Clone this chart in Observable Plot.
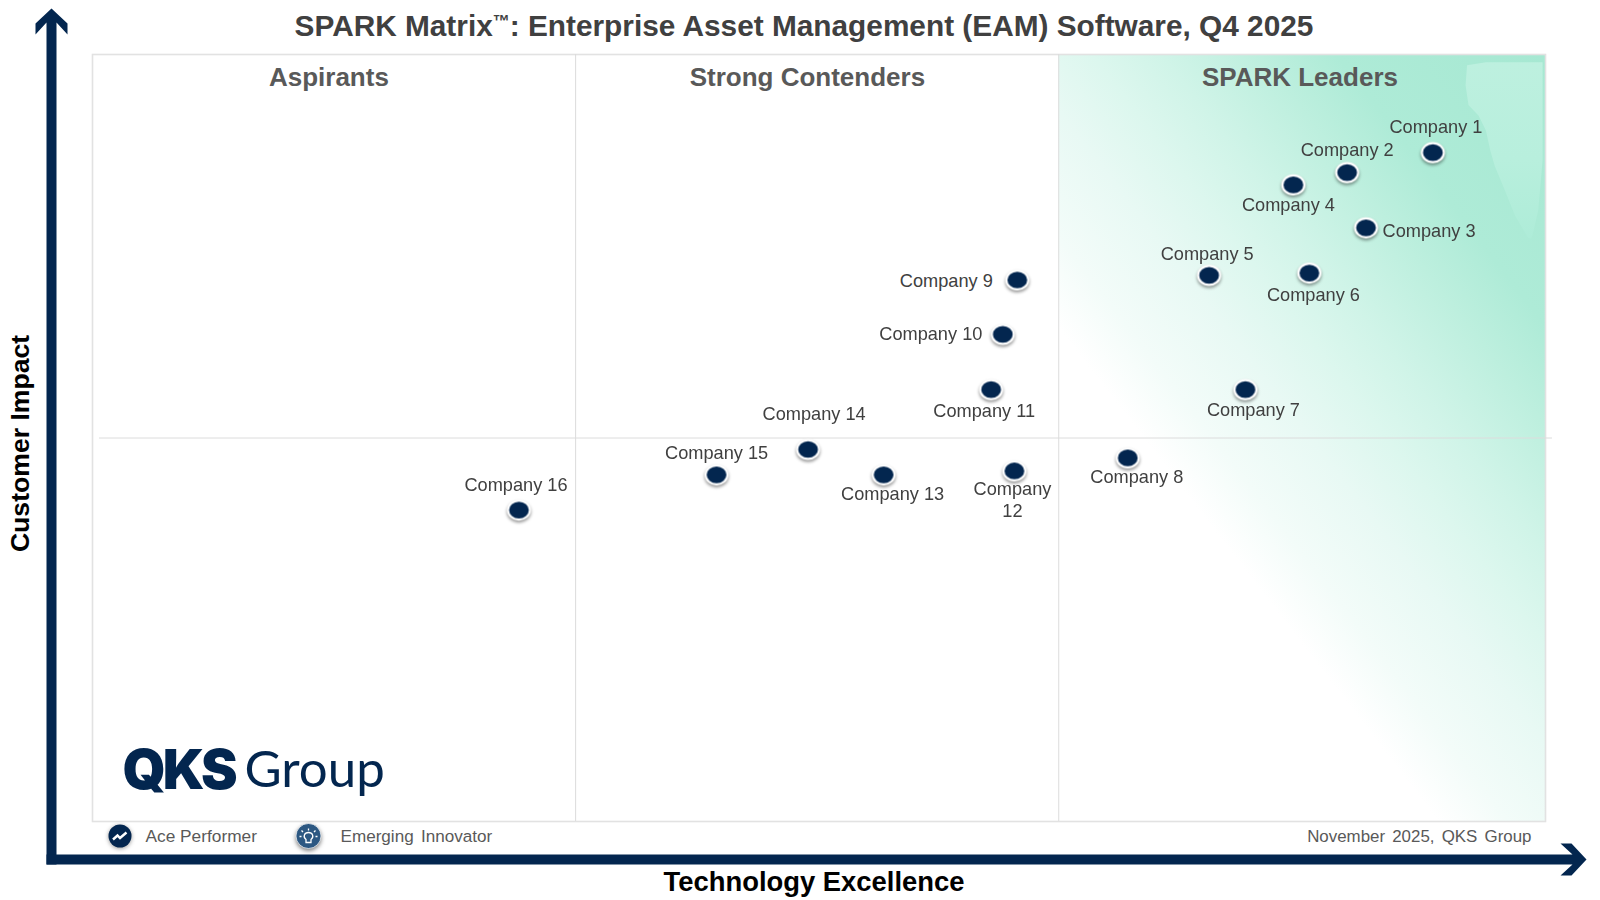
<!DOCTYPE html>
<html>
<head>
<meta charset="utf-8">
<script src="https://cdn.jsdelivr.net/npm/d3@7"></script>
<script src="https://cdn.jsdelivr.net/npm/@observablehq/plot@0.6"></script>
<style>
  html, body { margin: 0; background: #fff; }
</style>
</head>
<body>
<div id="chart"></div>
<script>
const companies = ["Company 1","Company 2","Company 3","Company 4","Company 5","Company 6","Company 7","Company 8","Company 9","Company 10","Company 11","Company 12","Company 13","Company 14","Company 15","Company 16"];
const technologyExcellence = [92.25,86.35,87.65,82.65,76.85,83.75,79.35,71.25,63.65,62.65,61.85,63.45,54.45,49.25,42.95,29.35];
const customerImpact = [87.2,84.6,77.4,83.0,71.2,71.5,56.3,47.4,70.6,63.5,56.3,45.7,45.2,48.5,45.2,40.6];
const labelLines = companies.map(c => c === "Company 12" ? "Company\n12" : c);
const quadrants = ["Aspirants","Strong Contenders","SPARK Leaders"];
const quadrantLabelAt = [16.27,49.2,83.1];
const quadrantEdges = [0,33.25,66.5,100];
const midImpact = 50;
const blobX = [94.6,95.9,99.8,99.8,99.5,99.1,99.0,98.8,97.9,97.2,96.5,96.2,95.9,95.4,94.7,94.5];
const blobY = [98.6,99.0,99.0,86.2,79.7,76.4,76.0,76.1,79.0,82.3,85.5,87.5,90.1,92.0,93.4,96.0];

const table = companies.map((name,i)=>({name,label:labelLines[i],x:technologyExcellence[i],y:customerImpact[i]}));
const labelOffset = [[3,-27],[0,-24],[63,2],[-5,19],[-2,-23],[4,21],[8,19],[9,18],[-71,0],[-72,-2],[-7,20],[-2,28],[9,18],[6,-37],[0,-23],[-3,-26]];

const ink = "#03264f";
function ellipseSymbol(){ return { draw(ctx,size){
  const r=Math.sqrt(size/Math.PI), rx=r, ry=r*.86, k=.5523;
  ctx.moveTo(rx,0);
  ctx.bezierCurveTo(rx,ry*k,rx*k,ry,0,ry);
  ctx.bezierCurveTo(-rx*k,ry,-rx,ry*k,-rx,0);
  ctx.bezierCurveTo(-rx,-ry*k,-rx*k,-ry,0,-ry);
  ctx.bezierCurveTo(rx*k,-ry,rx,-ry*k,rx,0);
  ctx.closePath();
}};}
const arrowShape = { draw(ctx,l){
  const s=5,w=16,h=26,n=14;
  ctx.moveTo(-s,0); ctx.lineTo(-s,-(l-n)); ctx.lineTo(-w,-(l-h));ctx.lineTo(-w,-(l-15));ctx.lineTo(0,-l);
  ctx.lineTo(w,-(l-15));ctx.lineTo(w,-(l-h));ctx.lineTo(s,-(l-n));ctx.lineTo(s,0);ctx.closePath();
}};
const trendSymbol = { draw(ctx){
  ctx.moveTo(-7,3.5);ctx.lineTo(-2.5,-0.5);ctx.lineTo(0,2);ctx.lineTo(6.5,-3.5);
}};
const bulbSymbol = { draw(ctx){
  ctx.moveTo(-2.5,2);ctx.bezierCurveTo(-6,-1,-4,-5,0,-5);ctx.bezierCurveTo(4,-5,6,-1,2.5,2);ctx.lineTo(2.5,5);ctx.lineTo(-2.5,5);ctx.closePath();
  ctx.moveTo(0,-7);ctx.lineTo(0,-9);ctx.moveTo(-5.5,-5.5);ctx.lineTo(-7,-7);ctx.moveTo(5.5,-5.5);ctx.lineTo(7,-7);
  ctx.moveTo(-7,-1);ctx.lineTo(-9,-1);ctx.moveTo(7,-1);ctx.lineTo(9,-1);
}};
const gradientDefs = () => {
  const defs = d3.create("svg:defs");
  const g = defs.append("linearGradient").attr("id","leaders").attr("gradientUnits","userSpaceOnUse")
    .attr("x1",1040).attr("y1",304).attr("x2",1478).attr("y2",-33);
  [[0,"#ffffff"],[.1,"#f3fcf9"],[.24,"#e8f9f4"],[.35,"#dcf7ee"],[.45,"#d0f4e8"],[.59,"#bdefde"],[.7,"#aeebd7"],[1,"#a6e8d2"]]
    .forEach(([o,c])=>g.append("stop").attr("offset",o).attr("stop-color",c));
  const b = defs.append("linearGradient").attr("id","blob").attr("x1",0).attr("y1",0).attr("x2",0).attr("y2",1);
  [[0,"#bdf0df"],[.55,"#b8efdd"],[1,"#aeecd8"]].forEach(([o,c])=>b.append("stop").attr("offset",o).attr("stop-color",c));
  return defs.node();
};

const font = "Liberation Sans, Arial, sans-serif";
const titleText = "SPARK Matrix™: Enterprise Asset Management (EAM) Software, Q4 2025";
const chart = Plot.plot({
  width:1600, height:900, marginTop:54, marginLeft:92, marginRight:55, marginBottom:79,
  x:{domain:[0,100],axis:null}, y:{domain:[0,100],axis:null},
  style:{fontFamily:font,background:"#fff",overflow:"visible"},
  marks:[
    gradientDefs,
    Plot.rect([0],{x1:quadrantEdges[2],x2:quadrantEdges[3],y1:0,y2:100,fill:"url(#leaders)"}),
    Plot.line(blobX.map((x,i)=>({x,y:blobY[i]})),{x:"x",y:"y",fill:"url(#blob)",stroke:"none"}),
    Plot.frame({stroke:"#e2e2e2",strokeWidth:1.6}),
    Plot.ruleX(quadrantEdges.slice(1,3),{stroke:"#dcdcdc",strokeWidth:1}),
    Plot.ruleY([midImpact],{x1:.48,x2:100.48,stroke:"#dcdcdc",strokeWidth:1}),
    // axis arrows
    Plot.vector([0],{frameAnchor:"bottom-left",dx:-41,dy:43,rotate:0,length:856,anchor:"start",shape:arrowShape,fill:ink,stroke:"none"}),
    Plot.vector([0],{frameAnchor:"bottom-left",dx:-46,dy:38,rotate:90,length:1540,anchor:"start",shape:arrowShape,fill:ink,stroke:"none"}),
    // title and axis names
    Plot.text([titleText],{frameAnchor:"top",dx:-15,dy:-40,fontSize:29.8,fontWeight:"bold",fill:"#404040"}),
    Plot.text(quadrants,{x:(d,i)=>quadrantLabelAt[i],frameAnchor:"top",dy:13,fontSize:26,fontWeight:"bold",fill:"#595959"}),
    Plot.text(["Customer Impact"],{frameAnchor:"left",textAnchor:"middle",dx:-72,dy:5.5,rotate:-90,fontSize:26.6,fontWeight:"bold",fill:"#000"}),
    Plot.text(["Technology Excellence"],{frameAnchor:"bottom",dx:-5,dy:69,fontSize:27.4,fontWeight:"bold",fill:"#000"}),
    // points
    Plot.dot(table,{x:"x",y:"y",r:11,symbol:ellipseSymbol(),fill:ink,stroke:"#fff",strokeWidth:2.2,imageFilter:"drop-shadow(0 2px 1.5px rgba(0,0,0,.4))"}),
    ...table.map((d,i)=>Plot.text([d],{x:"x",y:"y",text:"label",dx:labelOffset[i][0],dy:labelOffset[i][1],fontSize:18.2,fill:"#404040",lineHeight:1.22})),
    // logo
    Plot.text(["QKS"],{frameAnchor:"bottom-left",dx:30,dy:-33,textAnchor:"start",fontFamily:"Inter",fontWeight:900,fontSize:55,fill:ink,lineAnchor:"bottom"}),
    Plot.text(["Group"],{frameAnchor:"bottom-left",dx:152,dy:-35,textAnchor:"start",fontFamily:"Lato",fontWeight:400,fontSize:51,fill:ink,lineAnchor:"bottom"}),
    // legend & note
    Plot.dot([0],{frameAnchor:"bottom-left",dx:27.5,dy:14.5,r:11.5,fill:ink,imageFilter:"drop-shadow(0 1px 2px rgba(0,0,0,.4))"}),
    Plot.dot([0],{frameAnchor:"bottom-left",dx:27.5,dy:14.5,symbol:trendSymbol,fill:"none",stroke:"#fff",strokeWidth:2.4}),
    Plot.dot([0],{frameAnchor:"bottom-left",dx:216,dy:14.5,r:12.5,fill:"#2d5882",stroke:"#fff",strokeWidth:.7,imageFilter:"drop-shadow(0 2px 2px rgba(0,0,0,.5))"}),
    Plot.dot([0],{frameAnchor:"bottom-left",dx:216,dy:16,symbol:bulbSymbol,fill:"none",stroke:"#fff",strokeWidth:1.3}),
    Plot.text(["Ace Performer"],{frameAnchor:"bottom-left",dx:53,dy:20,textAnchor:"start",fontSize:17.3,fill:"#595959"}),
    Plot.text(["Emerging Innovator"],{frameAnchor:"bottom-left",dx:248,dy:20,textAnchor:"start",fontSize:17.1,fill:"#595959"}),
    Plot.text(["November 2025, QKS Group"],{frameAnchor:"bottom-right",dx:-14,dy:20,textAnchor:"end",fontSize:16.9,fill:"#595959"})
  ]
});
// Fine typography Plot has no option for
for (const el of chart.querySelectorAll("text")) {
  const s = el.textContent;
  if (s === titleText) {
    const [head, tail] = titleText.split("™");
    el.textContent = "";
    const add = (txt, attrs) => {
      const t = document.createElementNS("http://www.w3.org/2000/svg","tspan");
      t.textContent = txt;
      for (const k in attrs) t.setAttribute(k, attrs[k]);
      el.append(t);
    };
    add(head, {});
    add("™", {"font-size":"17", dy:"-9"});
    add(tail, {dy:"9"});
  } else if (s === "QKS") {
    el.style.letterSpacing = "-3px";
  } else if (s === "Emerging Innovator" || s.startsWith("November")) {
    el.style.wordSpacing = "2.5px";
  }
}
document.getElementById("chart").append(chart);
</script>
</body>
</html>
